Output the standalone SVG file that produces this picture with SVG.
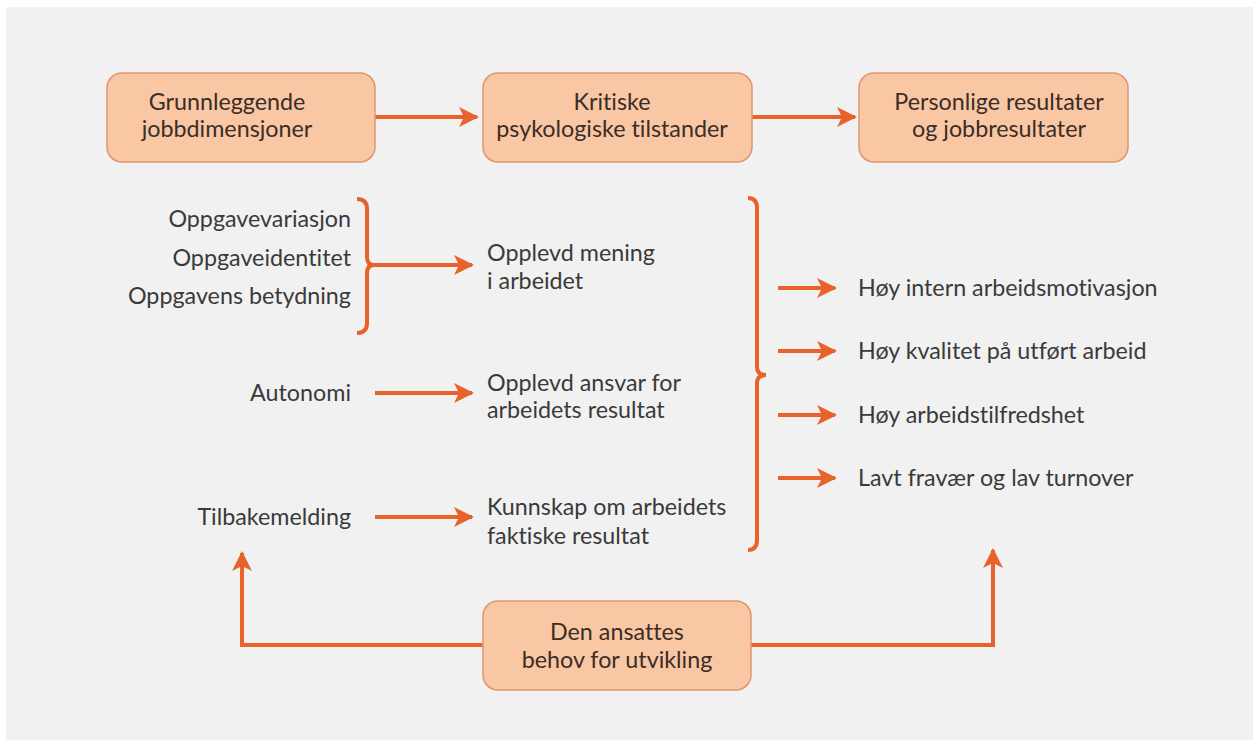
<svg xmlns="http://www.w3.org/2000/svg" width="1253" height="740" viewBox="0 0 1253 740">
<style>
.box{fill:#f9c7a3;stroke:#df9670;stroke-width:1.5}
.bt{font-family:Lato,"Open Sans","DejaVu Sans",sans-serif;font-size:23.3px;fill:#3b2d27;text-anchor:middle;font-variant-ligatures:none}
.t{font-family:Lato,"Open Sans","DejaVu Sans",sans-serif;font-size:23.3px;fill:#3a3a3a;font-variant-ligatures:none}
.r{text-anchor:end}
.ln{fill:none;stroke:#e8622c;stroke-width:4}
</style>
<defs>
<marker id="ah" viewBox="0 0 20 20" refX="18" refY="10" markerWidth="20" markerHeight="20" markerUnits="userSpaceOnUse" orient="auto">
<path d="M0,0 L20,10 L0,20 L5,10 z" fill="#e8622c"/>
</marker>
</defs>
<rect x="0" y="0" width="1253" height="740" fill="#ffffff"/>
<rect x="6" y="7" width="1247" height="733" fill="#f1f1f1"/>

<g id="connectors">
<path class="ln" d="M375,117 L477,117" marker-end="url(#ah)"/>
<path class="ln" d="M752,117 L855,117" marker-end="url(#ah)"/>
<path class="ln" d="M357,199 Q367,199 367,209 L367,257 Q367,265 374,265 Q367,265 367,273 L367,323 Q367,333 357,333"/>
<path class="ln" d="M374,265 L472,265" marker-end="url(#ah)"/>
<path class="ln" d="M375,393 L472,393" marker-end="url(#ah)"/>
<path class="ln" d="M375,517 L472,517" marker-end="url(#ah)"/>
<path class="ln" d="M748,198 Q757,198 757,208 L757,367 Q757,375 766,375 Q757,375 757,383 L757,540 Q757,550 748,550"/>
<path class="ln" d="M778,288 L835,288" marker-end="url(#ah)"/>
<path class="ln" d="M778,351 L835,351" marker-end="url(#ah)"/>
<path class="ln" d="M778,415 L835,415" marker-end="url(#ah)"/>
<path class="ln" d="M778,478 L835,478" marker-end="url(#ah)"/>
<path class="ln" d="M483,645 L242,645 L242,553" marker-end="url(#ah)"/>
<path class="ln" d="M751,645 L993,645 L993,550" marker-end="url(#ah)"/>
</g>

<g id="n-grunnleggende">
<rect class="box" x="107" y="73" width="268" height="89" rx="15"/>
<text class="bt" x="227" y="110">Grunnleggende</text>
<text class="bt" x="227" y="137">jobbdimensjoner</text>
</g>
<g id="n-kritiske">
<rect class="box" x="483" y="73" width="269" height="89" rx="15"/>
<text class="bt" x="612" y="110">Kritiske</text>
<text class="bt" x="612" y="137">psykologiske tilstander</text>
</g>
<g id="n-personlige">
<rect class="box" x="859" y="73" width="269" height="89" rx="15"/>
<text class="bt" x="999" y="110">Personlige resultater</text>
<text class="bt" x="999" y="137">og jobbresultater</text>
</g>
<g id="n-behov">
<rect class="box" x="483" y="601" width="268" height="89" rx="15"/>
<text class="bt" x="617" y="640">Den ansattes</text>
<text class="bt" x="617" y="668">behov for utvikling</text>
</g>

<g id="n-dimensjoner">
<text class="t r" x="351" y="227">Oppgavevariasjon</text>
<text class="t r" x="351" y="266">Oppgaveidentitet</text>
<text class="t r" x="351" y="304">Oppgavens betydning</text>
<text class="t r" x="351" y="401">Autonomi</text>
<text class="t r" x="351" y="525">Tilbakemelding</text>
</g>
<g id="n-tilstander">
<text class="t" x="487" y="261">Opplevd mening</text>
<text class="t" x="487" y="289">i arbeidet</text>
<text class="t" x="487" y="391">Opplevd ansvar for</text>
<text class="t" x="487" y="418">arbeidets resultat</text>
<text class="t" x="487" y="515">Kunnskap om arbeidets</text>
<text class="t" x="487" y="544">faktiske resultat</text>
</g>
<g id="n-resultater">
<text class="t" x="858" y="296">Høy intern arbeidsmotivasjon</text>
<text class="t" x="858" y="359">Høy kvalitet på utført arbeid</text>
<text class="t" x="858" y="423">Høy arbeidstilfredshet</text>
<text class="t" x="858" y="486">Lavt fravær og lav turnover</text>
</g>
</svg>
